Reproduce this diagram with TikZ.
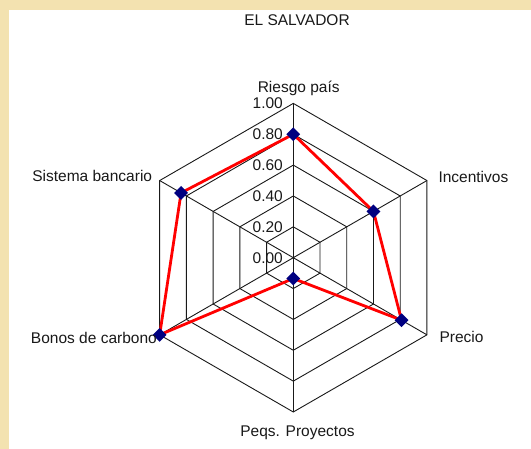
\documentclass[tikz,border=0pt]{standalone}
\usepackage{fontspec}
\setmainfont{Liberation Sans}
\usetikzlibrary{shapes.geometric}
\definecolor{cream}{HTML}{F3E2B0}
\definecolor{navyblue}{HTML}{000080}
\tikzset{
  gridline/.style={draw=black!90, line width=0.9pt},
  dataline/.style={draw=red, line width=2.8pt, line join=round},
  marker/.style={diamond, fill=navyblue, inner sep=0pt, minimum size=14pt},
  lbl/.style={font=\fontsize{15.5}{18}\selectfont, text=black!90, inner sep=0pt},
  tick/.style={lbl, anchor=east}
}
\begin{document}
\begin{tikzpicture}[x=1pt,y=1pt]
  \fill[cream] (0,0) rectangle (531,449);
  \fill[white] (9,0) rectangle (531,439);
  \useasboundingbox (0,0) rectangle (531,449);
  \coordinate (C) at (293.3,191.3);
  \def\R{154.3}
  % grid
  \begin{scope}[shift={(C)}]
    \foreach \f in {0.2,0.4,0.6,0.8,1.0}{
      \draw[gridline] (90:\f*\R) -- (30:\f*\R) -- (-30:\f*\R) -- (-90:\f*\R) -- (210:\f*\R) -- (150:\f*\R) -- cycle;
    }
    \foreach \a in {90,30,-30,-90,210,150}{
      \draw[gridline] (0,0) -- (\a:\R);
    }
    % data points
    \coordinate (p1) at (90:0.80*\R);
    \coordinate (p2) at (30:0.60*\R);
    \coordinate (p3) at (-30:0.81*\R);
    \coordinate (p4) at (-90:0.135*\R);
    \coordinate (p5) at (210:1.0*\R);
    \coordinate (p6) at (150:0.84*\R);
  \end{scope}
  % tick labels
  \foreach \f/\t [count=\i] in {0/0.00,0.2/0.20,0.4/0.40,0.6/0.60,0.8/0.80,1.0/1.00}{
    \node[tick] (tick\i) at (283,191.3+\f*\R) {\t};
  }
  % data line
  \draw[dataline] (p1) -- (p2) -- (p3) -- (p4) -- (p5) -- (p6) -- cycle;
  \foreach \i in {1,...,6}{
    \node[marker] (m\i) at (p\i) {};
  }
  % labels
  \node[lbl, anchor=base] (title) at (297,423.3) {EL SALVADOR};
  \node[lbl, anchor=base] (riesgo) at (298.7,356.3) {Riesgo país};
  \node[lbl, anchor=base east] (sistema) at (152.3,267.7) {Sistema bancario};
  \node[lbl, anchor=base west] (incent) at (438.3,266.3) {Incentivos};
  \node[lbl, anchor=base east] (bonos) at (157,105.7) {Bonos de carbono};
  \node[lbl, anchor=base west] (precio) at (439.3,106.3) {Precio};
  \node[lbl, anchor=base] (peqs) at (297.5,12.3) {Peqs. Proyectos};
\end{tikzpicture}
\end{document}
